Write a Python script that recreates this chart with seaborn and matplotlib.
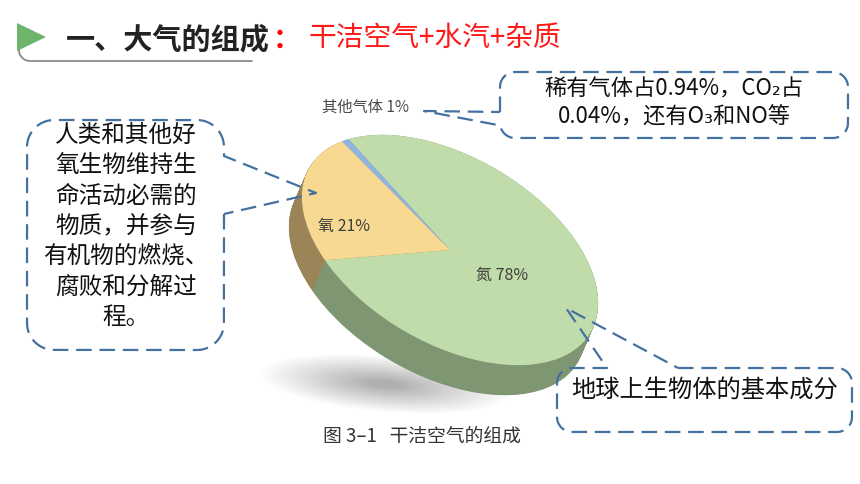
import numpy as np
import matplotlib
matplotlib.use('Agg')
import matplotlib.pyplot as plt
import seaborn as sns
from matplotlib.transforms import Affine2D
from matplotlib.patches import Ellipse, Polygon

# ---------------- data ----------------
categories = ['氮', '其他气体', '氧']
shares = [78, 1, 21]
label_texts = ['氮 78%', '其他气体 1%', '氧 21%']
top_colors = ['#c0dcaa', '#8fb4e0', '#f8d992']
side_colors = ['#7f9672', '#6d8fb8', '#9a8458']

title_main = '一、大气的组成'
title_colon = '：'
title_red = '干洁空气+水汽+杂质'
caption = '图 3–1   干洁空气的组成'
note_gases = ['稀有气体占0.94%，CO₂占', '0.04%，还有O₃和NO等']
note_oxygen = ['人类和其他好', '氧生物维持生', '命活动必需的', '物质，并参与',
               '有机物的燃烧、', '腐败和分解过', '程。']
note_nitrogen = ['地球上生物体的基本成分']

# ---------------- setup ----------------
W, H = 860, 484
sns.set_theme(style='white')
plt.rcParams['font.family'] = ['Noto Sans CJK SC', 'DejaVu Sans']

fig = plt.figure(figsize=(8.6, 4.84), dpi=100)
fig.patch.set_facecolor('white')
ax = fig.add_axes([0, 0, 1, 1])

CX, CY, A, B, ROT = 450, 250, 163, 93, -30.5
DX, DY = -13, 30


def pie_tf(t):
    return (Affine2D().scale(A, B).rotate_deg(ROT).scale(1, -1)
            .translate(CX + DX * t, CY + DY * t) + ax.transData)


# soft shadow
for k in range(40):
    f = 1 - k / 44
    ax.add_patch(Ellipse((385, 384), width=250 * f, height=56 * f, angle=5,
                         facecolor='#000000', edgecolor='none', alpha=0.0075, zorder=0.5))

# extruded side
N = 70
for t in np.linspace(1, 0, N):
    wedges, _ = ax.pie(shares, colors=side_colors, startangle=231, counterclock=True,
                       wedgeprops=dict(linewidth=0))
    for w in wedges:
        w.set_transform(pie_tf(t))
        w.set_zorder(1)

# top face
wedges, _ = ax.pie(shares, colors=top_colors, startangle=231, counterclock=True,
                   wedgeprops=dict(linewidth=0))
for w in wedges:
    w.set_transform(pie_tf(0))
    w.set_zorder(2)

ax.set_xlim(0, W)
ax.set_ylim(H, 0)
ax.set_aspect('auto')
ax.axis('off')

# pie labels
lab_col = '#3e3e3e'
ax.text(502, 275, label_texts[0], ha='center', va='center', fontsize=11.5, color=lab_col, zorder=5)
ax.text(322, 107, label_texts[1], ha='left', va='center', fontsize=11, color='#4a4a4a', zorder=5)
ax.text(344, 226, label_texts[2], ha='center', va='center', fontsize=11.5, color=lab_col, zorder=5)

# ---------------- title ----------------
ax.add_patch(Polygon([(17, 23), (17, 51), (46, 37)], closed=True,
                     facecolor='#6cb56b', edgecolor='none', zorder=3))
arc_t = np.linspace(np.pi, np.pi / 2, 20)
ux = list(30 + 11 * np.cos(arc_t)) + [252]
uy = list(50 + 11 * np.sin(arc_t)) + [61]
ax.plot(ux, uy, color='#8a8a8a', lw=1.3, solid_capstyle='round', zorder=3)
ax.text(66, 39, title_main, ha='left', va='center', fontsize=21, weight='bold', color='#222222')
ax.text(287, 40, title_colon, ha='center', va='center', fontsize=20, weight='bold', color='#ff0000')
ax.text(309, 38, title_red, ha='left', va='center', fontsize=20, color='#ff1a1a')

# caption
ax.text(323, 436, caption, ha='left', va='center', fontsize=13.5, color='#333333', weight='medium')

# ---------------- callouts ----------------
CALL_COL = '#4472a0'


def rounded_rect(x0, y0, x1, y1, r, n=20):
    pts = []
    for cx, cy, a0, a1 in [(x1 - r, y0 + r, -90, 0), (x1 - r, y1 - r, 0, 90),
                           (x0 + r, y1 - r, 90, 180), (x0 + r, y0 + r, 180, 270)]:
        ang = np.radians(np.linspace(a0, a1, n))
        pts += list(zip(cx + r * np.cos(ang), cy + r * np.sin(ang)))
    pts.append(pts[0])
    dense = []
    for (xa, ya), (xb, yb) in zip(pts[:-1], pts[1:]):
        m = max(int(np.hypot(xb - xa, yb - ya)), 1)
        for s in range(m):
            dense.append((xa + (xb - xa) * s / m, ya + (yb - ya) * s / m))
    return dense


def callout(box, r, pa, pb, tip):
    loop = rounded_rect(*box, r)
    arr = np.array(loop)
    n = len(arr)
    ia = int(np.argmin(np.hypot(arr[:, 0] - pa[0], arr[:, 1] - pa[1])))
    ib = int(np.argmin(np.hypot(arr[:, 0] - pb[0], arr[:, 1] - pb[1])))
    fwd = (ib - ia) % n
    if fwd > n / 2:
        seq = [loop[(ia + k) % n] for k in range(fwd + 1)]
    else:
        seq = [loop[(ib + k) % n] for k in range(((ia - ib) % n) + 1)]
    seq = seq + [tip, seq[0]]
    xs, ys = zip(*seq)
    ax.plot(xs, ys, color=CALL_COL, lw=1.6, linestyle=(0, (7, 3.5)),
            dash_capstyle='butt', zorder=6)


callout((500, 72, 848, 138), 15, (500, 112), (500, 126), (424, 111))
callout((27, 120, 224, 350), 27, (224, 156), (224, 214), (316, 193))
callout((557, 368, 852, 432), 15, (607, 368), (678, 368), (566, 308))

txt_col = '#111111'
for i, line in enumerate(note_gases):
    ax.text(674, 89 + 28 * i, line, ha='center', va='center', fontsize=16, color=txt_col, zorder=7)
for i, line in enumerate(note_oxygen):
    ax.text(126, 135 + 30.5 * i, line, ha='center', va='center', fontsize=17, color=txt_col, zorder=7)
ax.text(705, 390, note_nitrogen[0], ha='center', va='center', fontsize=17.5, color=txt_col, zorder=7)

fig.savefig('out.png', dpi=100, facecolor='white')
